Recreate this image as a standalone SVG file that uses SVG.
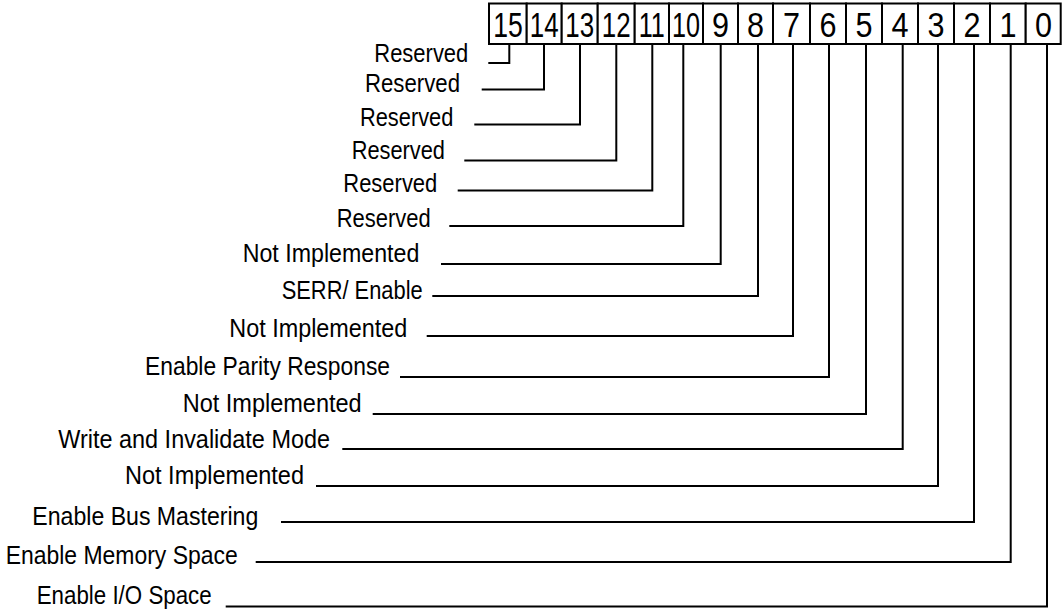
<svg xmlns="http://www.w3.org/2000/svg" width="1062" height="613" viewBox="0 0 1062 613">
<style>
.cell{fill:#fff;stroke:#000;stroke-width:2}
.num{font-family:"Liberation Sans",Arial,sans-serif;font-size:36px;fill:#000;text-anchor:middle}
.lbl{font-family:"Liberation Sans",Arial,sans-serif;font-size:25.5px;fill:#000}
.lead{fill:none;stroke:#000;stroke-width:2}
</style>
<rect width="1062" height="613" fill="#fff"/>
<g id="register">
<g id="bit15"><rect class="cell" x="489" y="3.5" width="37.7" height="40.5"/><text class="num" transform="translate(508 37) scale(0.74 1)">15</text></g>
<g id="bit14"><rect class="cell" x="526.7" y="3.5" width="35" height="40.5"/><text class="num" transform="translate(544.2 37) scale(0.72 1)">14</text></g>
<g id="bit13"><rect class="cell" x="561.7" y="3.5" width="36" height="40.5"/><text class="num" transform="translate(579.7 37) scale(0.72 1)">13</text></g>
<g id="bit12"><rect class="cell" x="597.7" y="3.5" width="37" height="40.5"/><text class="num" transform="translate(616.2 37) scale(0.72 1)">12</text></g>
<g id="bit11"><rect class="cell" x="634.7" y="3.5" width="34.3" height="40.5"/><text class="num" transform="translate(651.8 37) scale(0.7 1)">11</text></g>
<g id="bit10"><rect class="cell" x="669" y="3.5" width="34" height="40.5"/><text class="num" transform="translate(686 37) scale(0.7 1)">10</text></g>
<g id="bit9"><rect class="cell" x="703" y="3.5" width="35" height="40.5"/><text class="num" transform="translate(720.5 37) scale(0.85 1)">9</text></g>
<g id="bit8"><rect class="cell" x="738" y="3.5" width="35" height="40.5"/><text class="num" transform="translate(755.5 37) scale(0.85 1)">8</text></g>
<g id="bit7"><rect class="cell" x="773" y="3.5" width="37" height="40.5"/><text class="num" transform="translate(791.5 37) scale(0.85 1)">7</text></g>
<g id="bit6"><rect class="cell" x="810" y="3.5" width="36" height="40.5"/><text class="num" transform="translate(828 37) scale(0.85 1)">6</text></g>
<g id="bit5"><rect class="cell" x="846" y="3.5" width="36" height="40.5"/><text class="num" transform="translate(864 37) scale(0.85 1)">5</text></g>
<g id="bit4"><rect class="cell" x="882" y="3.5" width="36" height="40.5"/><text class="num" transform="translate(900 37) scale(0.85 1)">4</text></g>
<g id="bit3"><rect class="cell" x="918" y="3.5" width="36" height="40.5"/><text class="num" transform="translate(936 37) scale(0.85 1)">3</text></g>
<g id="bit2"><rect class="cell" x="954" y="3.5" width="36" height="40.5"/><text class="num" transform="translate(972 37) scale(0.85 1)">2</text></g>
<g id="bit1"><rect class="cell" x="990" y="3.5" width="35.7" height="40.5"/><text class="num" transform="translate(1008 37) scale(0.85 1)">1</text></g>
<g id="bit0"><rect class="cell" x="1025.7" y="3.5" width="35" height="40.5"/><text class="num" transform="translate(1043.5 37) scale(0.85 1)">0</text></g>
</g>
<g id="connectors">
<path class="lead" d="M509.3 44V63H488.3"/>
<path class="lead" d="M544 44V89.5H481.7"/>
<path class="lead" d="M580 44V124.5H474.3"/>
<path class="lead" d="M616.3 44V160.5H464.3"/>
<path class="lead" d="M652.3 44V190.5H457.7"/>
<path class="lead" d="M683.3 44V226H449.3"/>
<path class="lead" d="M720.7 44V264H441"/>
<path class="lead" d="M758 44V296H432.3"/>
<path class="lead" d="M793 44V336H426.7"/>
<path class="lead" d="M829 44V377H400"/>
<path class="lead" d="M866 44V414H372.7"/>
<path class="lead" d="M902.7 44V449H342.3"/>
<path class="lead" d="M938 44V486H316"/>
<path class="lead" d="M974 44V522H281"/>
<path class="lead" d="M1010.7 44V562H255.7"/>
<path class="lead" d="M1047 44V606.5H225.7"/>
</g>
<g id="label15"><text class="lbl" x="374.3" y="61.5" textLength="94" lengthAdjust="spacingAndGlyphs">Reserved</text></g>
<g id="label14"><text class="lbl" x="365" y="91.5" textLength="95" lengthAdjust="spacingAndGlyphs">Reserved</text></g>
<g id="label13"><text class="lbl" x="360" y="126" textLength="93.3" lengthAdjust="spacingAndGlyphs">Reserved</text></g>
<g id="label12"><text class="lbl" x="351.7" y="158.5" textLength="93.3" lengthAdjust="spacingAndGlyphs">Reserved</text></g>
<g id="label11"><text class="lbl" x="343.3" y="191.5" textLength="94" lengthAdjust="spacingAndGlyphs">Reserved</text></g>
<g id="label10"><text class="lbl" x="336.7" y="226.5" textLength="94" lengthAdjust="spacingAndGlyphs">Reserved</text></g>
<g id="label9"><text class="lbl" x="242.7" y="262" textLength="176.6" lengthAdjust="spacingAndGlyphs">Not Implemented</text></g>
<g id="label8"><text class="lbl" x="281.7" y="299" textLength="141" lengthAdjust="spacingAndGlyphs">SERR/ Enable</text></g>
<g id="label7"><text class="lbl" x="229.3" y="336.5" textLength="178" lengthAdjust="spacingAndGlyphs">Not Implemented</text></g>
<g id="label6"><text class="lbl" x="145" y="375" textLength="245" lengthAdjust="spacingAndGlyphs">Enable Parity Response</text></g>
<g id="label5"><text class="lbl" x="182.7" y="411.5" textLength="179" lengthAdjust="spacingAndGlyphs">Not Implemented</text></g>
<g id="label4"><text class="lbl" x="58.3" y="447.5" textLength="271.7" lengthAdjust="spacingAndGlyphs">Write and Invalidate Mode</text></g>
<g id="label3"><text class="lbl" x="125" y="483.5" textLength="179" lengthAdjust="spacingAndGlyphs">Not Implemented</text></g>
<g id="label2"><text class="lbl" x="32.3" y="525" textLength="226" lengthAdjust="spacingAndGlyphs">Enable Bus Mastering</text></g>
<g id="label1"><text class="lbl" x="5.7" y="563.5" textLength="232" lengthAdjust="spacingAndGlyphs">Enable Memory Space</text></g>
<g id="label0"><text class="lbl" x="36.7" y="603.5" textLength="175" lengthAdjust="spacingAndGlyphs">Enable I/O Space</text></g>
</svg>
